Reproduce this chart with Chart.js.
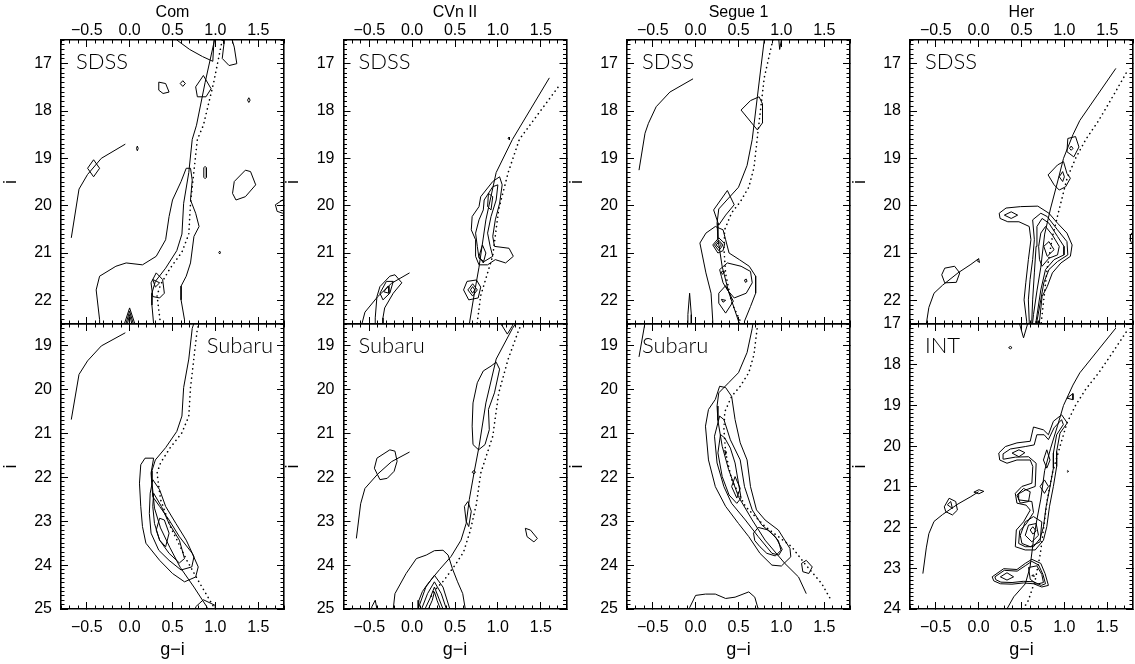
<!DOCTYPE html>
<html><head><meta charset="utf-8">
<script src="https://cdn.jsdelivr.net/npm/chart.js@4/dist/chart.umd.min.js"></script>
<style>
html,body{margin:0;padding:0;background:#fff;}
#wrap{position:relative;width:1135px;height:664px;overflow:hidden;background:#fff;}
canvas{position:absolute;left:0;top:0;}
</style></head>
<body><div id="wrap"></div>
<script>
// ---------------- tick labels / axis values ----------------
const galaxyNames = ['Com', 'CVn II', 'Segue 1', 'Her'];
const xTicks = [-0.5, 0.0, 0.5, 1.0, 1.5];
const yTicksTop = [17, 18, 19, 20, 21, 22];
const yTicksBottom = [19, 20, 21, 22, 23, 24, 25];
const yTicksInt = [17, 18, 19, 20, 21, 22, 23, 24];

// ---------------- Com ----------------
const comIso = [[0.99,16.5],[0.88,17.4],[0.78,18.3],[0.73,18.6],[0.69,19.3],[0.63,19.95],[0.61,20.6],[0.55,20.95],[0.42,21.32],[0.30,21.6],[0.26,21.85],[0.26,22.1],[0.29,22.7],[0.36,23.15],[0.47,23.6],[0.59,24.05],[0.75,24.5],[0.90,24.95],[0.95,25.2]];
const comIsoDot = [[1.08,16.5],[0.98,17.4],[0.86,18.3],[0.79,18.6],[0.76,19.1],[0.71,19.95],[0.69,20.6],[0.61,20.98],[0.47,21.33],[0.36,21.67],[0.32,21.9],[0.36,22.5],[0.47,23.1],[0.67,23.9],[0.82,24.42],[0.98,24.95],[1.02,25.1]];
const comHB = [[-0.05,18.7],[-0.33,19.0],[-0.49,19.34],[-0.59,19.65],[-0.68,20.68]];
const comSdss = [
  [[-0.35,22.7],[-0.35,22.41],[-0.39,21.78],[-0.35,21.49],[-0.16,21.28],[-0.04,21.21],[0.15,21.25],[0.31,21.07],[0.42,20.72],[0.46,20.23],[0.50,19.88],[0.60,19.49],[0.66,19.21],[0.71,19.21],[0.73,19.46],[0.71,19.88],[0.77,20.16],[0.81,20.44],[0.75,20.65],[0.71,21.21],[0.66,21.49],[0.60,21.70],[0.60,21.99],[0.64,22.41],[0.64,22.7]],
  [[-0.42,19.03],[-0.35,19.21],[-0.42,19.39],[-0.49,19.21]],
  [[0.86,17.25],[0.95,17.53],[0.89,17.70],[0.79,17.70],[0.77,17.49]],
  [[0.55,16.5],[0.70,16.7],[0.85,16.85],[0.97,16.95],[0.99,16.3],[0.55,16.3]],
  [[1.10,16.4],[1.10,16.58],[1.08,16.89],[1.16,17.04],[1.25,17.0],[1.22,16.65],[1.18,16.4]],
  [[0.34,17.39],[0.42,17.42],[0.46,17.60],[0.39,17.63],[0.34,17.56]],
  [[0.62,17.36],[0.65,17.42],[0.62,17.48],[0.59,17.42]],
  [[1.39,17.72],[1.405,17.77],[1.39,17.82],[1.375,17.77]],
  [[0.09,18.74],[0.10,18.79],[0.09,18.84],[0.08,18.79]],
  [[0.865,19.2],[0.88,19.17],[0.895,19.2],[0.895,19.4],[0.88,19.43],[0.865,19.4]],
  [[1.20,19.74],[1.22,19.49],[1.35,19.25],[1.41,19.28],[1.47,19.56],[1.35,19.81],[1.24,19.88]],
  [[1.9,19.88],[1.785,19.88],[1.70,19.98],[1.72,20.12],[1.785,20.16],[1.9,20.16]],
  [[1.05,20.96],[1.06,20.99],[1.05,21.02],[1.04,20.99]],
  [[0.25,21.63],[0.31,21.42],[0.385,21.56],[0.405,21.85],[0.35,21.95],[0.27,21.92]],
  [[0.27,21.56],[0.35,21.63],[0.30,21.72]],
  [[-0.08,22.6],[0.0,22.16],[0.08,22.6]],
  [[-0.06,22.6],[0.0,22.23],[0.06,22.6]],
  [[-0.04,22.6],[0.0,22.3],[0.04,22.6]]
];
const comSubaru = [
  [[0.18,21.56],[0.28,21.56],[0.25,21.90],[0.27,22.44],[0.35,22.66],[0.46,22.97],[0.58,23.35],[0.73,23.73],[0.80,24.04],[0.77,24.27],[0.64,24.38],[0.50,24.19],[0.35,23.89],[0.19,23.5],[0.15,23.12],[0.13,22.66],[0.115,22.13],[0.13,21.71]],
  [[0.27,22.05],[0.35,22.28],[0.42,22.66],[0.54,23.05],[0.66,23.43],[0.75,23.81],[0.725,24.04],[0.60,24.11],[0.46,23.89],[0.34,23.66],[0.25,23.27],[0.23,22.82],[0.24,22.36]],
  [[0.28,22.36],[0.37,22.66],[0.46,23.05],[0.58,23.43],[0.64,23.85],[0.58,23.95],[0.46,23.73],[0.35,23.43],[0.29,23.05],[0.27,22.66]],
  [[0.35,22.93],[0.405,22.97],[0.46,23.27],[0.42,23.58],[0.35,23.43],[0.31,23.2]],
  [[0.77,24.95],[0.86,24.79],[1.0,24.92],[1.0,25.2],[0.77,25.2]]
];

// ---------------- CVn II ----------------
const cvnIso = [[1.60,17.3],[1.17,18.6],[0.98,19.3],[0.86,20.3],[0.78,21.3],[0.725,21.86],[0.667,22.5],[0.63,23.05],[0.57,23.43],[0.455,23.8],[0.32,24.1],[0.185,24.42],[0.12,24.6],[0.08,24.8],[0.07,25.1]];
const cvnIsoDot = [[1.70,17.5],[1.25,18.6],[1.12,19.3],[1.01,20.07],[0.94,21.06],[0.80,21.9],[0.75,22.6],[0.68,23.2],[0.60,23.7],[0.50,24.0],[0.37,24.35],[0.25,24.6],[0.20,24.8]];
const cvnHB = [[-0.03,21.42],[-0.24,21.64],[-0.40,21.92],[-0.55,22.25],[-0.60,22.6],[-0.65,23.39]];
const cvnSdss = [
  [[0.80,19.81],[0.94,19.49],[1.02,19.39],[1.05,19.56],[1.02,19.95],[0.97,20.30],[0.94,20.65],[0.96,20.86],[1.13,20.90],[1.18,21.07],[1.09,21.21],[0.97,21.14],[0.88,21.25],[0.78,21.25],[0.74,21.07],[0.74,20.72],[0.69,20.51],[0.70,20.23],[0.78,20.02]],
  [[0.84,19.88],[0.94,19.60],[1.0,19.56],[0.98,19.88],[0.92,20.23],[0.88,20.58],[0.91,20.86],[0.94,21.07],[0.84,21.18],[0.78,21.11],[0.76,20.86],[0.74,20.58],[0.78,20.30],[0.83,20.09]],
  [[0.89,19.74],[0.94,19.81],[0.92,20.09],[0.88,20.02]],
  [[0.82,20.83],[0.86,21.0],[0.83,21.21],[0.78,21.07]],
  [[0.60,21.78],[0.64,21.6],[0.75,21.57],[0.80,21.72],[0.77,21.95],[0.66,21.99]],
  [[0.65,21.78],[0.706,21.65],[0.76,21.78],[0.706,21.91]],
  [[0.68,21.78],[0.706,21.71],[0.73,21.78],[0.706,21.85]],
  [[-0.43,22.6],[-0.43,22.37],[-0.41,21.92],[-0.375,21.71],[-0.26,21.49],[-0.20,21.46],[-0.12,21.63],[-0.22,21.85],[-0.32,22.16],[-0.34,22.37],[-0.34,22.6]],
  [[-0.375,21.85],[-0.30,21.6],[-0.22,21.6],[-0.26,21.85],[-0.34,21.99]],
  [[-0.33,21.82],[-0.28,21.7],[-0.27,21.85]],
  [[1.13,18.55],[1.14,18.58],[1.13,18.61],[1.12,18.58]]
];
const cvnSubaru = [
  [[0.98,19.37],[1.02,19.53],[0.96,20.07],[0.89,20.45],[0.90,20.91],[0.85,21.25],[0.775,21.37],[0.71,21.25],[0.70,20.83],[0.71,20.30],[0.76,19.84],[0.83,19.57],[0.92,19.46]],
  [[0.70,21.88],[0.72,21.84],[0.74,21.88],[0.72,21.92]],
  [[0.61,22.66],[0.65,22.55],[0.69,22.77],[0.66,23.12],[0.63,23.0]],
  [[-0.44,21.79],[-0.41,21.56],[-0.26,21.37],[-0.20,21.40],[-0.175,21.63],[-0.21,21.86],[-0.29,22.02],[-0.375,22.05]],
  [[1.32,23.16],[1.38,23.2],[1.46,23.39],[1.42,23.47],[1.34,23.35]],
  [[1.05,18.4],[1.05,18.54],[1.11,18.73],[1.17,18.54],[1.17,18.4]],
  [[-0.22,25.2],[-0.22,25.0],[-0.20,24.65],[-0.07,24.19],[0.05,23.85],[0.165,23.77],[0.26,23.67],[0.36,23.66],[0.42,23.77],[0.47,24.08],[0.53,24.38],[0.59,24.65],[0.62,25.0],[0.62,25.2]],
  [[0.07,25.2],[0.07,25.0],[0.16,24.5],[0.26,24.23],[0.36,24.5],[0.44,25.0],[0.44,25.2]],
  [[0.11,25.2],[0.11,25.0],[0.18,24.65],[0.26,24.38],[0.34,24.65],[0.40,25.0],[0.40,25.2]],
  [[0.15,25.2],[0.15,25.0],[0.21,24.75],[0.26,24.5],[0.31,24.75],[0.36,25.0],[0.36,25.2]],
  [[0.19,25.2],[0.19,25.0],[0.235,24.8],[0.26,24.61],[0.29,24.8],[0.33,25.0],[0.33,25.2]],
  [[-0.48,25.2],[-0.47,24.95],[-0.43,24.8],[-0.41,25.0],[-0.41,25.2]]
];

// ---------------- Segue 1 ----------------
const segIso = [[0.80,16.5],[0.72,17.7],[0.66,18.6],[0.60,19.15],[0.50,19.61],[0.385,19.84],[0.27,20.07],[0.25,20.37],[0.26,20.7],[0.31,21.29],[0.385,21.82],[0.50,22.44],[0.66,22.97],[0.81,23.43],[1.04,23.96],[1.20,24.27],[1.29,24.65]];
const segIsoDot = [[0.90,16.5],[0.80,17.3],[0.73,18.4],[0.68,19.2],[0.62,19.61],[0.52,19.92],[0.42,20.15],[0.34,20.5],[0.33,20.9],[0.35,21.44],[0.42,22.05],[0.58,22.66],[0.81,23.12],[1.12,23.58],[1.27,23.96],[1.47,24.42],[1.58,24.8]];
const segHB = [[-0.03,17.32],[-0.30,17.6],[-0.46,17.91],[-0.55,18.26],[-0.59,18.47],[-0.66,19.25]];
const segSdss = [
  [[0.53,17.98],[0.64,17.78],[0.74,17.70],[0.78,17.85],[0.78,18.25],[0.72,18.40]],
  [[0.21,20.09],[0.37,19.68],[0.45,19.98],[0.35,20.20],[0.27,20.41]],
  [[0.20,22.6],[0.20,22.44],[0.18,21.85],[0.12,21.42],[0.05,20.79],[0.12,20.58],[0.23,20.44],[0.32,20.51],[0.35,20.72],[0.39,21.0],[0.51,21.14],[0.625,21.28],[0.70,21.49],[0.70,21.85],[0.64,22.13],[0.57,22.44],[0.57,22.6]],
  [[0.20,20.83],[0.27,20.68],[0.34,20.80],[0.32,20.95],[0.26,21.0]],
  [[0.22,20.83],[0.27,20.73],[0.32,20.83],[0.27,20.95]],
  [[0.24,20.83],[0.27,20.77],[0.30,20.83],[0.27,20.89]],
  [[0.28,21.35],[0.37,21.21],[0.53,21.28],[0.64,21.39],[0.66,21.63],[0.59,21.85],[0.45,21.95],[0.37,21.78],[0.32,21.63],[0.30,21.49]],
  [[0.27,21.85],[0.35,21.69],[0.44,22.02],[0.35,22.27],[0.27,22.06]],
  [[0.30,21.98],[0.35,22.0],[0.32,22.04]],
  [[0.30,21.40],[0.32,21.38],[0.33,21.42],[0.31,21.45]],
  [[0.57,21.57],[0.59,21.55],[0.60,21.60],[0.58,21.62]],
  [[-0.09,22.6],[-0.09,22.3],[-0.07,21.85],[-0.05,22.3],[-0.05,22.6]],
  [[0.96,16.4],[0.97,16.5],[0.98,16.7],[1.0,16.5],[1.0,16.4]]
];
const segSubaru = [
  [[0.28,19.92],[0.23,20.22],[0.15,20.45],[0.115,20.83],[0.15,21.60],[0.23,22.21],[0.35,22.66],[0.50,23.05],[0.62,23.35],[0.75,23.73],[0.89,24.0],[1.0,24.02],[1.11,23.81],[1.10,23.62],[0.965,23.2],[0.81,22.97],[0.71,22.74],[0.64,22.21],[0.60,21.60],[0.52,21.21],[0.46,20.68],[0.42,20.15],[0.35,19.95]],
  [[0.28,20.6],[0.22,21.06],[0.25,21.67],[0.33,22.21],[0.42,22.59],[0.58,22.97],[0.73,23.35],[0.89,23.73],[0.97,23.77],[1.01,23.64],[0.93,23.35],[0.77,23.08],[0.66,22.74],[0.57,22.21],[0.52,21.60],[0.405,21.14],[0.33,20.68]],
  [[0.29,21.02],[0.26,21.44],[0.31,21.98],[0.39,22.40],[0.48,22.59],[0.53,22.47],[0.50,22.13],[0.46,21.67],[0.405,21.33],[0.34,21.1]],
  [[0.42,22.21],[0.46,21.98],[0.52,22.25],[0.48,22.47]],
  [[0.34,21.38],[0.36,21.42],[0.35,21.48]],
  [[0.675,23.27],[0.73,23.14],[0.85,23.2],[0.965,23.44],[0.995,23.66],[0.93,23.79],[0.83,23.73],[0.75,23.58],[0.69,23.44]],
  [[1.235,23.96],[1.29,23.89],[1.36,24.04],[1.32,24.19],[1.25,24.15]],
  [[-0.07,25.2],[-0.07,24.97],[0.0,24.69],[0.115,24.66],[0.23,24.66],[0.35,24.76],[0.46,24.73],[0.62,24.61],[0.69,24.73],[0.725,24.97],[0.725,25.2]]
];

// ---------------- Her ----------------
const herIso = [[1.60,17.1],[1.18,18.2],[1.10,18.5],[0.99,19.0],[0.92,19.5],[0.84,20.05],[0.77,20.6],[0.725,21.3],[0.68,21.8],[0.64,22.3],[0.60,22.97],[0.545,23.38],[0.41,23.7],[0.33,24.0],[0.30,24.1]];
const herIsoDot = [[1.72,17.2],[1.54,17.77],[1.40,18.2],[1.25,18.6],[1.13,19.0],[1.03,19.43],[0.95,20.0],[0.86,20.66],[0.80,21.32],[0.76,21.98],[0.72,22.64],[0.66,23.29],[0.58,23.79],[0.52,24.0],[0.50,24.1]];
const herHB = [[0.0,21.12],[-0.09,21.24],[-0.24,21.42],[-0.42,21.68],[-0.52,21.85],[-0.58,22.15],[-0.61,22.5],[-0.65,23.13]];
const herSdss = [
  [[1.04,18.58],[1.13,18.54],[1.17,18.76],[1.11,18.97],[1.03,18.86]],
  [[1.08,18.74],[1.10,18.79],[1.08,18.83],[1.06,18.79]],
  [[0.81,19.35],[0.92,19.14],[0.99,19.07],[1.03,19.32],[1.07,19.42],[1.015,19.6],[0.94,19.67],[0.88,19.56]],
  [[0.94,19.39],[0.98,19.28],[1.0,19.39],[0.98,19.49]],
  [[0.24,20.16],[0.32,20.05],[0.49,20.02],[0.69,20.01],[0.82,20.16],[0.92,20.37],[1.03,20.58],[1.09,20.83],[1.07,21.07],[0.96,21.21],[0.86,21.42],[0.80,21.71],[0.74,21.92],[0.71,22.44],[0.71,22.6],[0.56,22.6],[0.56,22.44],[0.53,21.99],[0.55,21.63],[0.58,21.14],[0.61,20.72],[0.59,20.44],[0.47,20.34],[0.34,20.34],[0.25,20.27]],
  [[0.30,20.2],[0.38,20.13],[0.455,20.2],[0.38,20.27]],
  [[0.63,20.30],[0.725,20.16],[0.80,20.23],[0.92,20.51],[1.03,20.76],[1.04,21.04],[0.92,21.18],[0.82,21.35],[0.76,21.63],[0.725,21.99],[0.68,22.44],[0.68,22.6],[0.59,22.6],[0.59,22.44],[0.58,21.99],[0.60,21.56],[0.63,21.14],[0.65,20.72]],
  [[0.68,20.44],[0.74,20.27],[0.82,20.37],[0.92,20.65],[0.995,20.86],[0.995,21.04],[0.88,21.14],[0.78,21.35],[0.725,21.78],[0.67,22.44],[0.67,22.6],[0.62,22.6],[0.62,22.44],[0.63,21.99],[0.65,21.42],[0.67,20.86]],
  [[0.725,20.58],[0.78,20.44],[0.86,20.62],[0.94,20.86],[0.92,21.04],[0.82,21.11],[0.74,21.28],[0.71,21.14],[0.70,20.86]],
  [[0.76,20.86],[0.82,20.76],[0.88,20.93],[0.80,21.07]],
  [[-0.43,21.46],[-0.395,21.32],[-0.28,21.28],[-0.22,21.42],[-0.26,21.62],[-0.395,21.63]],
  [[-0.02,21.16],[0.0,21.12],[0.01,21.2]],
  [[1.9,20.55],[1.8,20.55],[1.77,20.62],[1.77,20.75],[1.8,20.8],[1.9,20.8]]
];
const herInt = [
  [[0.47,16.9],[0.478,17.0],[0.524,17.34],[0.571,17.0],[0.58,16.9]],
  [[0.35,17.58],[0.37,17.55],[0.39,17.58],[0.37,17.61]],
  [[1.03,18.82],[1.10,18.71],[1.10,18.86]],
  [[0.235,20.17],[0.312,20.01],[0.447,19.92],[0.602,19.88],[0.64,19.53],[0.756,19.6],[0.814,19.72],[0.872,19.39],[0.968,19.23],[1.034,19.43],[0.949,19.68],[0.91,20.13],[0.91,20.5],[0.872,20.99],[0.826,21.49],[0.795,21.98],[0.756,22.31],[0.66,22.55],[0.544,22.55],[0.428,22.47],[0.44,22.06],[0.524,21.86],[0.602,21.57],[0.555,21.45],[0.447,21.4],[0.428,21.16],[0.505,20.99],[0.621,20.91],[0.632,20.5],[0.602,20.34],[0.447,20.34],[0.331,20.42],[0.246,20.34]],
  [[0.285,20.19],[0.37,20.07],[0.544,20.01],[0.648,19.97],[0.679,19.72],[0.764,19.72],[0.814,19.84],[0.88,19.55],[0.968,19.35],[0.988,19.47],[0.91,19.72],[0.872,20.17],[0.872,20.54],[0.833,20.99],[0.787,21.49],[0.756,21.98],[0.717,22.27],[0.64,22.47],[0.544,22.47],[0.467,22.39],[0.479,22.08],[0.555,21.91],[0.64,21.63],[0.621,21.36],[0.467,21.32],[0.467,21.17],[0.544,21.08],[0.66,20.99],[0.671,20.42],[0.582,20.26],[0.428,20.27],[0.293,20.32]],
  [[0.39,20.17],[0.47,20.09],[0.54,20.16],[0.47,20.26]],
  [[0.756,20.34],[0.795,20.09],[0.833,20.34],[0.795,20.54]],
  [[0.717,20.99],[0.768,20.83],[0.814,20.99],[0.768,21.16]],
  [[0.447,21.2],[0.524,21.04],[0.602,21.12],[0.582,21.36],[0.486,21.4]],
  [[0.486,22.19],[0.544,21.86],[0.64,21.73],[0.737,21.86],[0.717,22.35],[0.602,22.47],[0.505,22.39]],
  [[0.544,22.19],[0.582,21.94],[0.671,21.9],[0.698,22.19],[0.621,22.35]],
  [[0.602,22.06],[0.632,21.98],[0.671,22.08],[0.632,22.16]],
  [[0.158,23.21],[0.293,23.01],[0.447,23.03],[0.544,22.88],[0.621,22.78],[0.725,22.88],[0.775,23.13],[0.814,23.42],[0.737,23.46],[0.64,23.38],[0.524,23.36],[0.389,23.39],[0.254,23.38],[0.177,23.31]],
  [[0.19,23.21],[0.30,23.05],[0.45,23.07],[0.55,22.93],[0.62,22.83],[0.70,22.92],[0.75,23.15],[0.78,23.38],[0.73,23.42],[0.64,23.33],[0.52,23.32],[0.39,23.35],[0.26,23.34],[0.20,23.28]],
  [[0.254,23.21],[0.331,23.11],[0.408,23.21],[0.331,23.29]],
  [[0.582,22.98],[0.679,22.94],[0.737,23.15],[0.756,23.35],[0.679,23.39],[0.602,23.27]],
  [[0.62,23.18],[0.64,23.16],[0.65,23.2]],
  [[-0.40,21.49],[-0.344,21.28],[-0.267,21.36],[-0.247,21.57],[-0.305,21.69],[-0.383,21.61]],
  [[-0.364,21.44],[-0.325,21.36],[-0.305,21.53]],
  [[-0.055,21.13],[0.003,21.07],[0.061,21.11],[0.003,21.17]],
  [[1.04,20.6],[1.05,20.62],[1.04,20.64],[1.03,20.62]]
];

// ---------------- layout / drawing ----------------
const FONT = "'Liberation Sans', Arial, Helvetica, sans-serif";
const LABEL_FONT = "300 22px Lato, 'Liberation Sans', sans-serif";
const X_RANGE = [-0.8, 1.8];
const PANEL_LEFT = [61, 343.5, 627, 910];
const PANEL_W = 223;
const W = 1135, H = 664;

const galaxies = [
  {name: galaxyNames[0], iso: comIso, dot: comIsoDot, hb: comHB, top: comSdss, bottom: comSubaru, bottomLabel: 'Subaru', labelRight: true, bRange: [18.5, 25], bTicks: yTicksBottom},
  {name: galaxyNames[1], iso: cvnIso, dot: cvnIsoDot, hb: cvnHB, top: cvnSdss, bottom: cvnSubaru, bottomLabel: 'Subaru', labelRight: false, bRange: [18.5, 25], bTicks: yTicksBottom},
  {name: galaxyNames[2], iso: segIso, dot: segIsoDot, hb: segHB, top: segSdss, bottom: segSubaru, bottomLabel: 'Subaru', labelRight: false, bRange: [18.5, 25], bTicks: yTicksBottom},
  {name: galaxyNames[3], iso: herIso, dot: herIsoDot, hb: herHB, top: herSdss, bottom: herInt, bottomLabel: 'INT', labelRight: false, bRange: [17, 24], bTicks: yTicksInt}
];

function stepTicks(min, max, step) {
  const out = [];
  const n0 = Math.ceil(min / step - 1e-6), n1 = Math.floor(max / step + 1e-6);
  for (let n = n0; n <= n1; n++) out.push(+(n * step).toFixed(4));
  return out;
}
function fmtX(v) { return (v < -1e-9 ? '\u2212' : '') + Math.abs(v).toFixed(1); }
function fmtY(v) { return String(Math.round(v)); }

function mkAxis(o) {
  const horiz = o.pos === 'top' || o.pos === 'bottom';
  return {
    type: 'linear', position: o.pos, min: o.min, max: o.max, reverse: !!o.reverse,
    weight: o.minor ? 0 : 1,
    afterBuildTicks: s => { s.ticks = o.values.map(v => ({value: v})); },
    afterFit: s => { if (horiz) s.height = o.size; else s.width = o.size; },
    grid: {display: true, drawOnChartArea: false, drawTicks: true, tickLength: o.minor ? -3.5 : -7,
           color: '#000', tickColor: '#000', lineWidth: 1, tickWidth: 1},
    border: {display: !o.minor, color: '#000', width: 1.6},
    ticks: {display: !!o.labels, autoSkip: false, maxRotation: 0, minRotation: 0, padding: o.tickPad || 0,
            color: '#000', font: {family: FONT, size: 16}, callback: o.fmt || (v => '')},
    title: o.title ? {display: true, text: o.title, color: '#000', font: {family: FONT, size: o.titleSize}, padding: o.titlePad}
                   : {display: false}
  };
}

const panelLabel = {
  id: 'panelLabel',
  afterDatasetsDraw(chart, args, opts) {
    const {ctx, chartArea} = chart;
    ctx.save();
    ctx.font = LABEL_FONT;
    ctx.fillStyle = '#000';
    ctx.textBaseline = 'alphabetic';
    if (opts.right) { ctx.textAlign = 'right'; ctx.fillText(opts.text, chartArea.right - 11, chartArea.top + 29); }
    else { ctx.textAlign = 'left'; ctx.fillText(opts.text, chartArea.left + 15, chartArea.top + 29); }
    ctx.restore();
  }
};

function closed(poly) { return poly.concat([poly[0]]).map(p => ({x: p[0], y: p[1]})); }
function open(line) { return line.map(p => ({x: p[0], y: p[1]})); }

function makeChart(g, col, row) {
  const cv = document.createElement('canvas');
  cv.width = W; cv.height = H;
  cv.style.width = W + 'px'; cv.style.height = H + 'px';
  document.getElementById('wrap').appendChild(cv);
  const left = PANEL_LEFT[col], right = left + PANEL_W;
  const yRange = row === 0 ? [16.5, 22.5] : g.bRange;
  const yMajor = row === 0 ? yTicksTop : g.bTicks;
  const xMinor = stepTicks(X_RANGE[0], X_RANGE[1], 0.1);
  const yMinor = stepTicks(yRange[0], yRange[1], 0.1);
  const contours = row === 0 ? g.top : g.bottom;
  const base = {showLine: true, pointRadius: 0, pointHoverRadius: 0, borderColor: '#000', borderWidth: 1,
                tension: 0, fill: false, clip: 0, xAxisID: 'x', yAxisID: 'y'};
  const datasets = contours.map(p => Object.assign({}, base, {data: closed(p)}));
  datasets.push(Object.assign({}, base, {data: open(g.hb)}));
  datasets.push(Object.assign({}, base, {data: open(g.iso)}));
  datasets.push(Object.assign({}, base, {data: open(g.dot), borderDash: [0.1, 4.6], borderCapStyle: 'round', borderWidth: 1.6}));

  const scales = {
    x: mkAxis({pos: 'bottom', min: X_RANGE[0], max: X_RANGE[1], values: xTicks, size: row === 1 ? 55 : 0,
               labels: row === 1, fmt: fmtX, tickPad: 16.4,
               title: row === 1 ? 'g\u2212i' : null, titleSize: 18, titlePad: {top: 0, bottom: 3.2}}),
    x2: mkAxis({pos: 'bottom', minor: true, min: X_RANGE[0], max: X_RANGE[1], values: xMinor, size: 0}),
    xt: mkAxis({pos: 'top', min: X_RANGE[0], max: X_RANGE[1], values: xTicks, size: row === 0 ? 40 : 0,
                labels: row === 0, fmt: fmtX, tickPad: 7,
                title: row === 0 ? g.name : null, titleSize: 16, titlePad: {top: 2.5, bottom: 0}}),
    xt2: mkAxis({pos: 'top', minor: true, min: X_RANGE[0], max: X_RANGE[1], values: xMinor, size: 0}),
    y: mkAxis({pos: 'left', reverse: true, min: yRange[0], max: yRange[1], values: yMajor, size: 61,
               labels: true, fmt: fmtY, tickPad: 16, title: 'i', titleSize: 18, titlePad: {top: 0.2, bottom: 0}}),
    y2: mkAxis({pos: 'left', minor: true, reverse: true, min: yRange[0], max: yRange[1], values: yMinor, size: 0}),
    yr: mkAxis({pos: 'right', reverse: true, min: yRange[0], max: yRange[1], values: yMajor, size: 0}),
    yr2: mkAxis({pos: 'right', minor: true, reverse: true, min: yRange[0], max: yRange[1], values: yMinor, size: 0})
  };

  new Chart(cv.getContext('2d'), {
    type: 'scatter',
    data: {datasets},
    options: {
      responsive: false, animation: false, devicePixelRatio: 1, events: [],
      layout: {padding: {left: left - 61, right: W - right, top: row === 0 ? 0 : 324, bottom: row === 0 ? H - 324 : 0}},
      scales,
      plugins: {legend: {display: false}, tooltip: {enabled: false},
                panelLabel: {text: row === 0 ? 'SDSS' : g.bottomLabel, right: row === 1 && g.labelRight}}
    },
    plugins: [panelLabel]
  });
}

galaxies.forEach((g, i) => { makeChart(g, i, 0); makeChart(g, i, 1); });
</script>
</body></html>
